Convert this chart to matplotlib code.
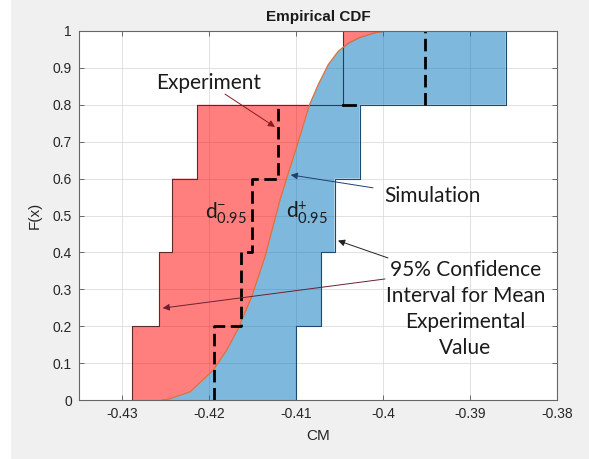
import numpy as np
import matplotlib
matplotlib.use('Agg')
from matplotlib import pyplot as plt
from matplotlib.patches import Rectangle

plt.rcParams['font.family'] = 'Liberation Sans'
plt.rcParams['mathtext.fontset'] = 'custom'
plt.rcParams['mathtext.rm'] = 'Lato'
plt.rcParams['mathtext.it'] = 'Lato:italic'

# CDF levels of the 5 experimental samples
levels = [0.2, 0.4, 0.6, 0.8, 1.0]
exp_x = [-0.4195, -0.4164, -0.4151, -0.4121, -0.3952]
# 95% confidence bounds (lower / upper) on the experiment
lo_x = [-0.4289, -0.4258, -0.4243, -0.4214, -0.4046]
hi_x = [-0.4100, -0.4071, -0.4056, -0.4027, -0.3859]

# simulation CDF
sim_x = [-0.4255, -0.42473, -0.42223, -0.41955, -0.41801, -0.41667, -0.41513,
         -0.41360, -0.41187, -0.41110, -0.40995, -0.40848, -0.40747, -0.40632,
         -0.40517, -0.40401, -0.40267, -0.40100, -0.39968]
sim_y = [0.0, 0.002, 0.022, 0.081, 0.135, 0.194, 0.280, 0.388, 0.542, 0.601,
         0.686, 0.800, 0.855, 0.909, 0.945, 0.967, 0.983, 0.995, 1.0]

xticks = [-0.43, -0.42, -0.41, -0.40, -0.39, -0.38]
xticklabels = ['-0.43', '-0.42', '-0.41', '-0.4', '-0.39', '-0.38']
yticks = [i / 10 for i in range(11)]
yticklabels = ['0', '0.1', '0.2', '0.3', '0.4', '0.5', '0.6', '0.7', '0.8', '0.9', '1']


def stairs(xs):
    px, py = [], []
    prev = 0.0
    for x, lev in zip(xs, levels):
        px += [x, x]
        py += [prev, lev]
        prev = lev
    return px, py


sim_x = np.array(sim_x)
sim_y = np.array(sim_y)

fig = plt.figure(figsize=(5.89, 4.59), dpi=100, facecolor='#f0f0f0')
fig.patches.append(Rectangle((0, 0), 10 / 589, 1, transform=fig.transFigure,
                             color='white', zorder=0))
ax = fig.add_axes([79 / 589, 1 - 400 / 459, 478 / 589, 369 / 459])
ax.set_facecolor('white')

# red: lower bound -> simulation
lx, ly = stairs(lo_x)
low = sim_y <= 0.8
red_x = lx[:8] + list(sim_x[low][::-1])
red_y = ly[:8] + list(sim_y[low][::-1])
ax.fill(red_x, red_y, color='red', alpha=0.5, lw=0, zorder=2)
top = sim_y >= 0.8
ax.fill_betweenx(sim_y[top], lo_x[-1], sim_x[top], where=sim_x[top] >= lo_x[-1],
                 interpolate=True, color='red', alpha=0.5, lw=0, zorder=2)

# blue: simulation -> upper bound
hx, hy = stairs(hi_x)
ax.fill(hx + list(sim_x[::-1]), hy + list(sim_y[::-1]), color='#0072bd',
        alpha=0.5, lw=0, zorder=2)

ax.plot(lx, ly, color='#5c2a2a', lw=0.8, zorder=3)
ax.plot(hx, hy, color='#1d4a6e', lw=0.8, zorder=3)
ax.plot(sim_x, sim_y, color='#e0703a', lw=0.9, zorder=3)

# experiment ECDF (dashed)
ex, ey = stairs(exp_x)
ex = ex[:8] + [np.nan] + ex[8:]
ey = ey[:8] + [np.nan] + ey[8:]
ax.plot(ex, ey, color='black', lw=2, ls=(0, (4.5, 2)), zorder=4)
ax.plot([lo_x[-1], -0.4032], [0.8, 0.8], color='black', lw=2, zorder=4)

ax.set_xlim(-0.435, -0.38)
ax.set_ylim(0, 1)
ax.set_xticks(xticks)
ax.set_xticklabels(xticklabels)
ax.set_yticks(yticks)
ax.set_yticklabels(yticklabels)
ax.grid(True, color='#dcdcdc', lw=0.6, zorder=0)
ax.set_axisbelow(True)
ax.tick_params(direction='in', length=3.5, width=0.6, color='#555555',
               labelcolor='#262626', labelsize=10, top=True, right=True, pad=5)
for s in ax.spines.values():
    s.set_color('#666666')
    s.set_linewidth(0.8)
    s.set_zorder(5)

ax.set_title('Empirical CDF', fontsize=11, fontweight='bold', color='#1a1a1a', pad=7)
ax.set_xlabel('CM', fontsize=11, color='#262626', labelpad=6)
ax.set_ylabel('F(x)', fontsize=11, color='#262626', labelpad=8)

# annotations
afont = dict(family='Lato', fontsize=15, color='#1a1a1a', zorder=6)
ax.text(-0.42007, 0.859, 'Experiment', ha='center', va='center', **afont)
ax.text(-0.39433, 0.553, 'Simulation', ha='center', va='center', **afont)
ax.text(-0.41809, 0.507, r'$\mathrm{d^{-}_{0.95}}$', ha='center', va='center', **afont)
ax.text(-0.40877, 0.507, r'$\mathrm{d^{+}_{0.95}}$', ha='center', va='center', **afont)
ax.text(-0.39053, 0.247, '95% Confidence\nInterval for Mean\nExperimental\nValue',
        ha='center', va='center', linespacing=1.38, **afont)


def arrow(tail, head, color):
    ax.annotate('', xy=head, xytext=tail, zorder=6,
                arrowprops=dict(arrowstyle='-|>', color=color, lw=0.7,
                                mutation_scale=10, shrinkA=0, shrinkB=0))


arrow((-0.41820, 0.829), (-0.41245, 0.740), '#8b1a1a')
arrow((-0.40117, 0.575), (-0.41064, 0.610), '#1f3f6f')
arrow((-0.39945, 0.385), (-0.40520, 0.432), '#222222')
arrow((-0.39979, 0.328), (-0.42537, 0.249), '#6b2030')

fig.savefig('out.png', dpi=100, facecolor=fig.get_facecolor())
